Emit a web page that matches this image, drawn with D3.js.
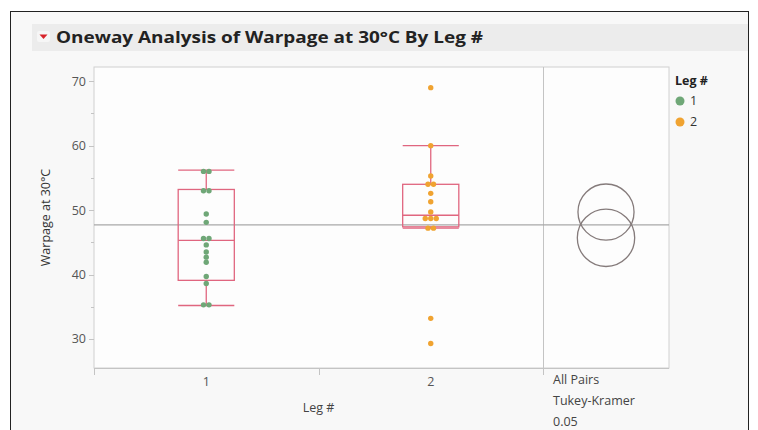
<!DOCTYPE html>
<meta charset="utf-8">
<style>
body { margin: 0; background: #fff; }
text { font-family: "Open Sans", "Noto Sans", sans-serif; }
.axis path, .axis line { stroke: #c4c4c4; shape-rendering: crispEdges; }
.axis text { fill: #555; font-size: 12.5px; }
</style>
<body>
<svg width="758" height="430"></svg>
<script src="https://cdn.jsdelivr.net/npm/d3@7"></script>
<script>

// data
var levels = ["1", "2"];
var leg1 = [56, 56, 53, 53, 49.4, 48.1, 45.6, 45.6, 44.6, 43.5, 42.7, 41.9, 39.7, 38.6, 35.3, 35.3];
var leg2 = [69, 60, 55.3, 54, 54, 52.6, 51.3, 49.7, 48.7, 48.7, 48.7, 47.2, 47.2, 33.2, 29.3];
// box stats per level: whisker low, q1, median, q3, whisker high
var boxLow = [35.2, 47.2];
var boxQ1 = [39.1, 47.4];
var boxMedian = [45.3, 49.2];
var boxQ3 = [53.2, 54.0];
var boxHigh = [56.2, 60.0];
var grandMean = 47.7;
// comparison circles (Tukey-Kramer): centre = level mean, radius in y units
var circleMean = [45.7, 49.7];
var circleRadius = [4.45, 4.35];
var yTicks = [30, 40, 50, 60, 70];
var yMinor = [35, 45, 55, 65];

var colors = ["#6fa777", "#f0a331"];

var svg = d3.select("svg"),
    plot = {left: 94, right: 669, top: 67, bottom: 368},
    divider = 543;

var x = d3.scaleBand().domain(levels).range([plot.left, divider]),
    y = d3.scaleLinear().domain([25.5, 72.2]).range([plot.bottom, plot.top]);

// outer frame and backgrounds
svg.append("rect")
    .attr("x", 10.5).attr("y", 11.5)
    .attr("width", 738).attr("height", 440)
    .style("fill", "#f8f8f8")
    .style("stroke", "#222");

svg.append("rect")
    .attr("x", 32).attr("y", 24)
    .attr("width", 716).attr("height", 27)
    .style("fill", "#ececec");

// red disclosure triangle
svg.append("rect")
    .attr("x", 37).attr("y", 31)
    .attr("width", 13).attr("height", 11).attr("rx", 2)
    .style("fill", "#f6f6f6");
svg.append("path")
    .attr("d", "M39.5,34.5 L47.5,34.5 L43.5,39 Z")
    .style("fill", "#d8232a");

svg.append("text")
    .attr("x", 56).attr("y", 43)
    .attr("textLength", 427)
    .attr("lengthAdjust", "spacingAndGlyphs")
    .style("font-size", "16px")
    .style("font-weight", "bold")
    .style("fill", "#222")
    .text("Oneway Analysis of Warpage at 30°C By Leg #");

// plot area
svg.append("rect")
    .attr("x", plot.left).attr("y", plot.top)
    .attr("width", plot.right - plot.left).attr("height", plot.bottom - plot.top)
    .style("fill", "#fdfdfd")
    .style("stroke", "#d0d0d0");

// y axis
svg.append("g")
    .attr("class", "axis")
    .attr("transform", "translate(" + plot.left + ",0)")
    .call(d3.axisLeft(y).tickValues(yTicks).tickSize(5).tickPadding(3))
    .call(function(g) { g.select(".domain").remove(); });

svg.append("g")
    .attr("class", "axis")
    .attr("transform", "translate(" + plot.left + ",0)")
    .call(d3.axisLeft(y).tickValues(yMinor).tickSize(3).tickFormat(""))
    .call(function(g) { g.select(".domain").remove(); });

svg.append("text")
    .attr("transform", "translate(50," + ((plot.top + plot.bottom) / 2) + ") rotate(-90)")
    .attr("text-anchor", "middle")
    .style("font-size", "12.5px")
    .style("fill", "#333")
    .text("Warpage at 30°C");

// x axis
svg.append("line")
    .attr("x1", plot.left).attr("x2", plot.right)
    .attr("y1", plot.bottom + 0.5).attr("y2", plot.bottom + 0.5)
    .style("stroke", "#c4c4c4");

svg.append("g")
    .attr("class", "axis")
    .attr("transform", "translate(0," + plot.bottom + ")")
    .call(d3.axisBottom(x).tickSize(0).tickPadding(9))
    .call(function(g) { g.select(".domain").remove(); });

// ticks on the level boundaries
svg.selectAll(".xb")
    .data([plot.left, x("2"), divider])
    .enter().append("line")
    .attr("x1", function(d) { return Math.round(d) + 0.5; })
    .attr("x2", function(d) { return Math.round(d) + 0.5; })
    .attr("y1", plot.bottom)
    .attr("y2", plot.bottom + 7)
    .style("stroke", "#c4c4c4");

svg.append("text")
    .attr("x", x("2")).attr("y", 412)
    .attr("text-anchor", "middle")
    .style("font-size", "12.5px")
    .style("fill", "#444")
    .text("Leg #");

// divider between the plot and the comparison circles
svg.append("line")
    .attr("x1", divider + 0.5).attr("x2", divider + 0.5)
    .attr("y1", plot.top).attr("y2", plot.bottom + 7)
    .style("stroke", "#c4c4c4");

svg.selectAll(".cap")
    .data(["All Pairs", "Tukey-Kramer", "0.05"])
    .enter().append("text")
    .attr("x", divider + 10)
    .attr("y", function(d, i) { return 384 + i * 21; })
    .style("font-size", "12.5px")
    .style("fill", "#444")
    .text(function(d) { return d; });

// grand mean
svg.append("line")
    .attr("x1", plot.left).attr("x2", plot.right)
    .attr("y1", y(grandMean)).attr("y2", y(grandMean))
    .style("stroke", "#a8a8a8")
    .style("stroke-width", 1.2);

// box plots
var boxColor = "#e0667f";
levels.forEach(function(lv, i) {
  var cx = x(lv) + x.bandwidth() / 2,
      hw = x.bandwidth() / 8,
      g = svg.append("g").style("stroke", boxColor).style("fill", "none").style("stroke-width", 1.3);

  g.append("line").attr("x1", cx).attr("x2", cx).attr("y1", y(boxHigh[i])).attr("y2", y(boxQ3[i]));
  g.append("line").attr("x1", cx).attr("x2", cx).attr("y1", y(boxQ1[i])).attr("y2", y(boxLow[i]));
  g.append("line").attr("x1", cx - hw).attr("x2", cx + hw).attr("y1", y(boxHigh[i])).attr("y2", y(boxHigh[i]));
  g.append("line").attr("x1", cx - hw).attr("x2", cx + hw).attr("y1", y(boxLow[i])).attr("y2", y(boxLow[i]));
  g.append("rect")
      .attr("x", cx - hw).attr("y", y(boxQ3[i]))
      .attr("width", 2 * hw).attr("height", y(boxQ1[i]) - y(boxQ3[i]));
  g.append("line").attr("x1", cx - hw).attr("x2", cx + hw).attr("y1", y(boxMedian[i])).attr("y2", y(boxMedian[i]));
});

// points, tied values side by side
[leg1, leg2].forEach(function(vals, i) {
  var cx = x(levels[i]) + x.bandwidth() / 2,
      counts = d3.rollup(vals, function(v) { return v.length; }, function(d) { return d; }),
      seen = new Map();
  var pts = vals.map(function(v) {
    var n = counts.get(v), k = seen.get(v) || 0;
    seen.set(v, k + 1);
    return {v: v, dx: (k - (n - 1) / 2) * 5.5};
  });
  svg.selectAll(".pt" + i)
      .data(pts)
      .enter().append("circle")
      .attr("cx", function(d) { return cx + d.dx; })
      .attr("cy", function(d) { return y(d.v); })
      .attr("r", 2.7)
      .style("fill", colors[i]);
});

// comparison circles
var ccx = (divider + plot.right) / 2;
svg.selectAll(".cc")
    .data(circleMean)
    .enter().append("circle")
    .attr("cx", ccx)
    .attr("cy", function(d) { return y(d); })
    .attr("r", function(d, i) { return y(d - circleRadius[i]) - y(d); })
    .style("fill", "none")
    .style("stroke", "#857b7b")
    .style("stroke-width", 1.3);

// legend
svg.append("text")
    .attr("x", 675).attr("y", 85)
    .style("font-size", "12.5px")
    .style("font-weight", "bold")
    .style("fill", "#222")
    .text("Leg #");

var leg = svg.selectAll(".leg")
    .data(levels)
    .enter().append("g")
    .attr("transform", function(d, i) { return "translate(680," + (101 + i * 21) + ")"; });
leg.append("circle")
    .attr("r", 4.5)
    .style("fill", function(d, i) { return colors[i]; });
leg.append("text")
    .attr("x", 10).attr("dy", "0.35em")
    .style("font-size", "12.5px")
    .style("fill", "#333")
    .text(function(d) { return d; });

</script>
</body>
